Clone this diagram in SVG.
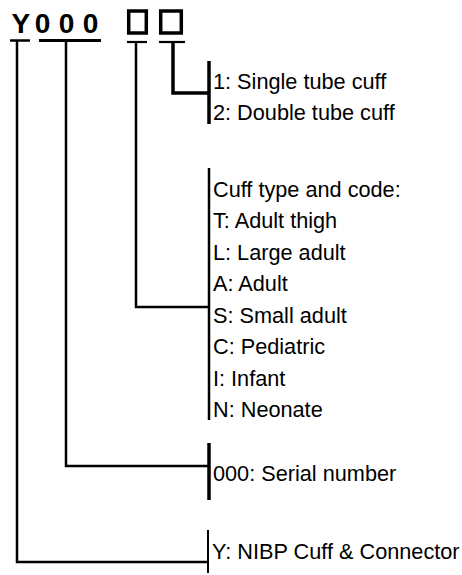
<svg xmlns="http://www.w3.org/2000/svg" width="462" height="575" viewBox="0 0 462 575">
<style>
.lbl{font-family:"Liberation Sans",Arial,sans-serif;font-size:21.7px;fill:#000}
.code{font-family:"Liberation Sans",Arial,sans-serif;font-size:28px;font-weight:bold;fill:#000}
.ln{stroke:#000;fill:none;stroke-linecap:butt}
.t{stroke-width:2.5}
.k{stroke-width:3.5}
</style>
<rect width="462" height="575" fill="#fff"/>
<g id="code">
<text class="code" x="11.5 34.8 58.8 82.8" y="33">Y000</text>
<rect class="ln" x="128.7" y="11" width="17.6" height="22" stroke-width="3.5"/>
<rect class="ln" x="160.7" y="11" width="20.6" height="22" stroke-width="3.5"/>
<line class="ln" x1="10" y1="40.5" x2="30" y2="40.5" stroke-width="2.5"/>
<line class="ln" x1="39" y1="40.5" x2="101" y2="40.5" stroke-width="3"/>
<line class="ln" x1="127" y1="42" x2="147" y2="42" stroke-width="2.2"/>
<line class="ln" x1="159" y1="42" x2="185" y2="42" stroke-width="2.2"/>
</g>
<g id="connectors">
<polyline class="ln k" points="173,42 173,93 209,93"/>
<polyline class="ln t" points="136,42 136,307 209,307"/>
<polyline class="ln t" points="66,41 66,466 209,466"/>
<polyline class="ln t" points="17,41 17,562 208,562"/>
</g>
<g id="tube">
<line class="ln k" x1="209" y1="61" x2="209" y2="124"/>
<text class="lbl" x="213" y="89">1: Single tube cuff</text>
<text class="lbl" x="213" y="120">2: Double tube cuff</text>
</g>
<g id="cufftype">
<line class="ln t" x1="209" y1="168" x2="209" y2="420"/>
<text class="lbl" x="213" y="197">Cuff type and code:</text>
<text class="lbl" x="213" y="228">T: Adult thigh</text>
<text class="lbl" x="213" y="259.5">L: Large adult</text>
<text class="lbl" x="213" y="291">A: Adult</text>
<text class="lbl" x="213" y="322.5">S: Small adult</text>
<text class="lbl" x="213" y="354">C: Pediatric</text>
<text class="lbl" x="213" y="385.5">I: Infant</text>
<text class="lbl" x="213" y="417">N: Neonate</text>
</g>
<g id="serial">
<line class="ln k" x1="209" y1="443" x2="209" y2="500"/>
<text class="lbl" x="213" y="481">000: Serial number</text>
</g>
<g id="type">
<line class="ln" x1="208" y1="530" x2="208" y2="573" stroke-width="2"/>
<text class="lbl" x="212" y="559">Y: NIBP Cuff &amp; Connector</text>
</g>
</svg>
